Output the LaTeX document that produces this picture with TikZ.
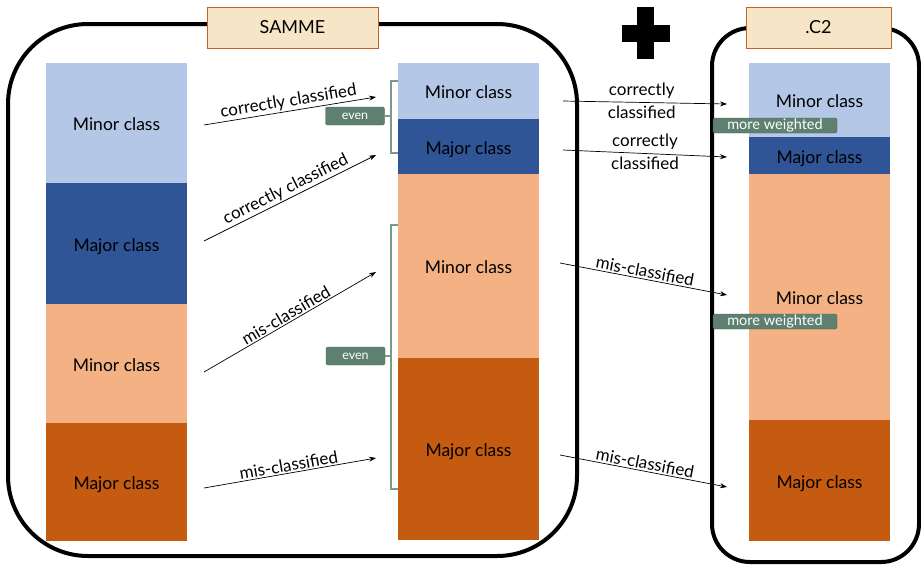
\documentclass[tikz,border=0pt]{standalone}
\usepackage{fontspec}
\setmainfont{Lato}
\usetikzlibrary{arrows.meta}
\definecolor{minorblue}{HTML}{B4C7E7}
\definecolor{majorblue}{HTML}{2F5597}
\definecolor{minororange}{HTML}{F4B183}
\definecolor{majororange}{HTML}{C55A11}
\definecolor{tagfill}{HTML}{F6E6C7}
\definecolor{tagline}{HTML}{C0652A}
\definecolor{evenfill}{HTML}{5E8070}
\definecolor{evenline}{HTML}{7A9A8A}
\begin{document}
\begin{tikzpicture}[x=1pt, y=-1pt,
  seg/.style={minimum width=141pt, inner sep=0pt, text height=16pt, text depth=1pt, font=\fontsize{17.5}{19}\selectfont},
  outer/.style={line width=4pt},
  title/.style={draw=tagline, fill=tagfill, line width=1pt, minimum width=171pt, minimum height=41pt, font=\fontsize{18}{20}\selectfont},
  arr/.style={-{Stealth[length=7pt, width=5pt]}, line width=0.7pt},
  lbl/.style={font=\fontsize{17}{19}\selectfont, inner sep=1.5pt},
  eventag/.style={fill=evenfill, draw=evenfill!80!black, rounded corners=2pt, text=white, minimum width=59pt, minimum height=18pt, inner sep=0pt, font=\fontsize{12.5}{13}\selectfont},
  weighttag/.style={fill=evenfill, draw=evenfill!80!black, rounded corners=2pt, text=white, minimum width=124pt, minimum height=15pt, inner sep=0pt, font=\fontsize{14.5}{15}\selectfont},
  brace/.style={draw=evenline, line width=2pt}]
\useasboundingbox (0,0) rectangle (921,566);
% outer boxes
\draw[outer, rounded corners=80pt] (8,24) rectangle (577,556);
\draw[outer, rounded corners=38pt] (712,28) rectangle (919,562);
\node[title] (samme) at (292.5,27.5) {SAMME};
\node[title, minimum width=145pt] (ctwo) at (818.5,27.5) {.C2};
% plus
\fill (622,25) rectangle (670,42);
\fill (637,7) rectangle (654,59);
% left column
\node[seg, fill=minorblue, minimum height=120pt] (l1) at (116.5,123) {Minor class};
\node[seg, fill=majorblue, minimum height=121pt] (l2) at (116.5,243.5) {Major class};
\node[seg, fill=minororange, minimum height=119pt] (l3) at (116.5,363.5) {Minor class};
\node[seg, fill=majororange, minimum height=118pt] (l4) at (116.5,482) {Major class};
% middle column
\node[seg, fill=minorblue, minimum height=56pt] (m1) at (468.5,91) {Minor class};
\node[seg, fill=majorblue, minimum height=55pt] (m2) at (468.5,146.5) {Major class};
\node[seg, fill=minororange, minimum height=184pt] (m3) at (468.5,266) {Minor class};
\node[seg, fill=majororange, minimum height=182pt] (m4) at (468.5,449) {Major class};
% right column
\node[seg, fill=minorblue, minimum height=74pt] (r1) at (819.5,100) {Minor class};
\node[seg, fill=majorblue, minimum height=37pt] (r2) at (819.5,155.5) {Major class};
\node[seg, fill=minororange, minimum height=246pt] (r3) at (819.5,297) {Minor class};
\node[seg, fill=majororange, minimum height=121pt] (r4) at (819.5,480.5) {Major class};
% brackets
\draw[brace] (398,81) -- (391,81) -- (391,153) -- (398,153);
\draw[brace] (398,225) -- (391,225) -- (391,489) -- (398,489);
\coordinate (b1) at (391,116);
\coordinate (b2) at (391,356);
\node[eventag] (e1) at (355,116) {even};
\node[eventag] (e2) at (355.5,356) {even};
\draw[brace] (e1) -- (b1);
\draw[brace] (e2) -- (b2);
% arrows left -> middle
\coordinate (a1s) at (204,125); \coordinate (a1e) at (376,97);
\coordinate (a2s) at (204,241); \coordinate (a2e) at (376,155);
\coordinate (a3s) at (204,372); \coordinate (a3e) at (376,272);
\coordinate (a4s) at (204,488); \coordinate (a4e) at (376,458);
\draw[arr] (a1s) -- node[lbl, above, sloped] {correctly classified} (a1e);
\draw[arr] (a2s) -- node[lbl, above, sloped] {correctly classified} (a2e);
\draw[arr] (a3s) -- node[lbl, above, sloped] {mis-classified} (a3e);
\draw[arr] (a4s) -- node[lbl, above, sloped] {mis-classified} (a4e);
% arrows middle -> right
\coordinate (c1s) at (563,101); \coordinate (c1e) at (727,104);
\coordinate (c2s) at (563,150); \coordinate (c2e) at (727,157);
\coordinate (c3s) at (560,263); \coordinate (c3e) at (727,295);
\coordinate (c4s) at (560,455); \coordinate (c4e) at (727,487);
\draw[arr] (c1s) -- node[lbl, above, pos=0.48, inner sep=3.5pt] {correctly} node[lbl, below, pos=0.48, inner sep=3.5pt] {classified} (c1e);
\draw[arr] (c2s) -- node[lbl, above, pos=0.5, inner sep=3.5pt] {correctly} node[lbl, below, pos=0.5, inner sep=3.5pt] {classified} (c2e);
\draw[arr] (c3s) -- node[lbl, above, sloped] {mis-classified} (c3e);
\draw[arr] (c4s) -- node[lbl, above, sloped] {mis-classified} (c4e);
% weight tags
\node[weighttag] (w1) at (775,125.5) {more weighted};
\node[weighttag] (w2) at (775,321.5) {more weighted};
\end{tikzpicture}
\end{document}
